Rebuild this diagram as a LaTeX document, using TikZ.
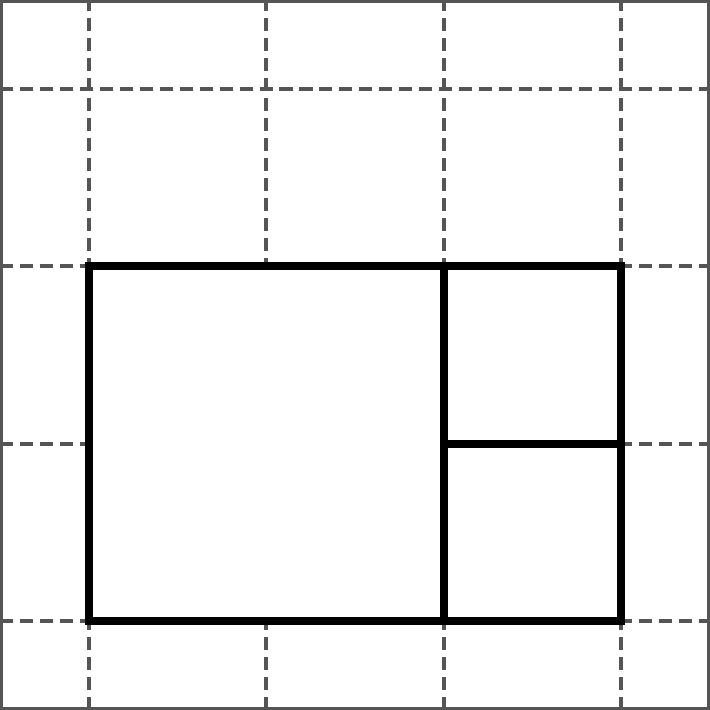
\documentclass[tikz,border=0pt]{standalone}
\usepackage{tikz}
\usepackage{xcolor}
\definecolor{gridgray}{HTML}{555555}

\begin{document}
\begin{tikzpicture}[x=1cm, y=1cm]
  \tikzstyle{frame}=[draw=gridgray, line width=0.48pt]
  \tikzstyle{gridline}=[draw=gridgray, line width=0.64pt, dash pattern=on 2.1pt off 1.1pt]
  \tikzstyle{room}=[draw=black, line width=1.3pt]

  \useasboundingbox (0,0) rectangle (4,4);

  % Marco exterior
  \draw[frame] ([shift={(0.24pt,0.24pt)}]0,0) rectangle ([shift={(-0.24pt,-0.24pt)}]4,4);

  % Rejilla
  \foreach \k in {0.5,1.5,2.5,3.5} {
    \draw[gridline] (\k,0) -- (\k,4);
    \draw[gridline] (0,\k) -- (4,\k);
  }

  % Plano
  \draw[room, fill=white] (0.5,0.5) rectangle (3.5,2.5);
  \draw[room] (2.5,0.5) -- (2.5,2.5);
  \draw[room] (2.5,1.5) -- (3.5,1.5);
\end{tikzpicture}
\end{document}
